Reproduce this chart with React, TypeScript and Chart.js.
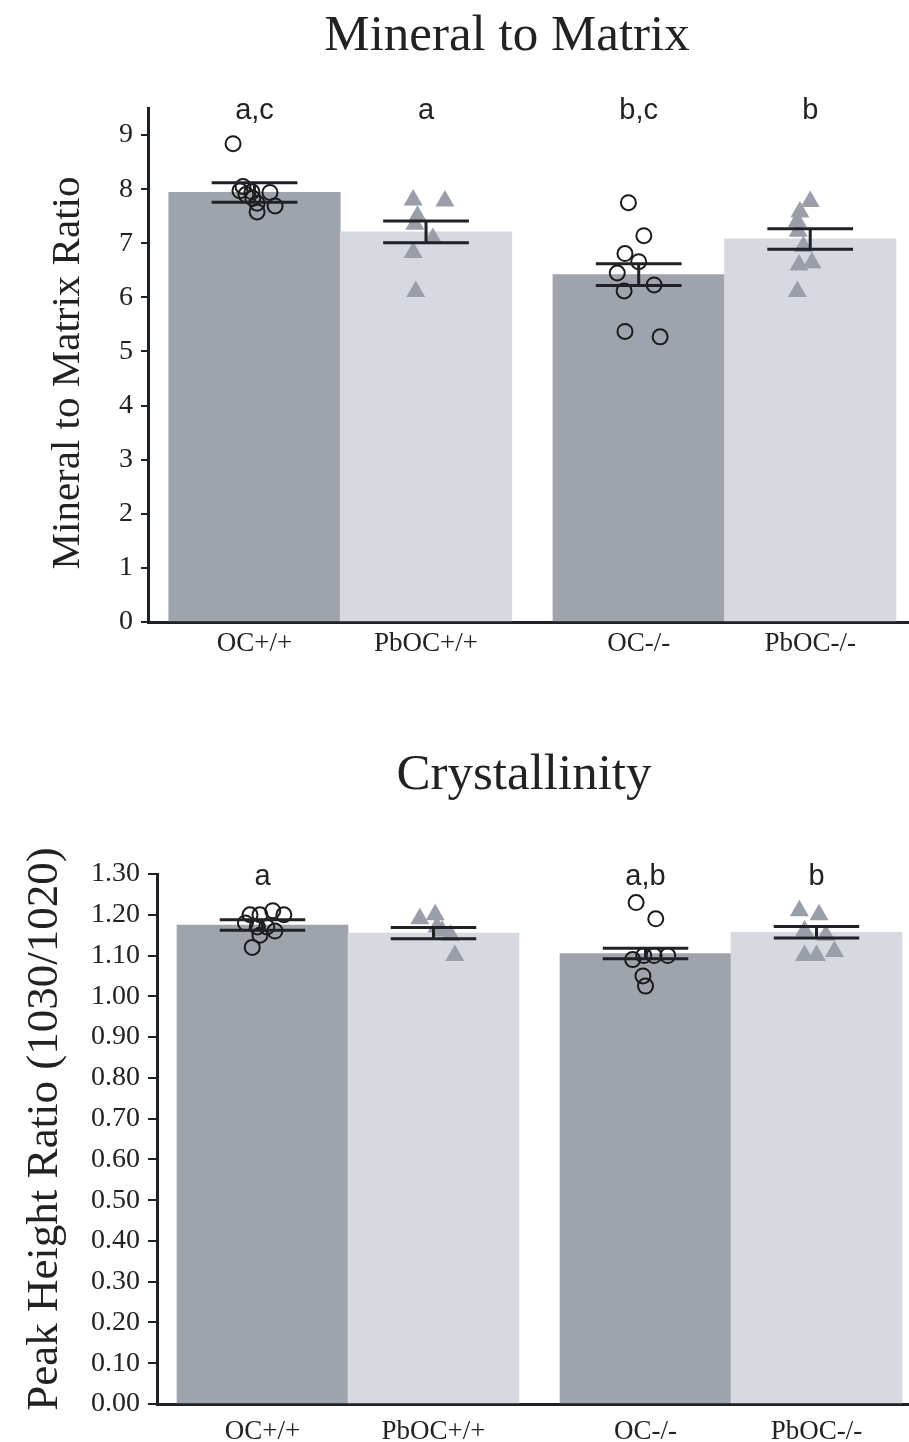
import React, { useEffect, useRef } from "react";
import { Chart, registerables } from "chart.js";

Chart.register(...registerables);

// ---------- data ----------
const GROUPS = ["OC+/+", "PbOC+/+", "OC-/-", "PbOC-/-"];

// Mineral to Matrix
const MM_MEANS = [7.94, 7.21, 6.42, 7.08];
const MM_SEM = [0.18, 0.2, 0.2, 0.19];
const MM_LETTERS = ["a,c", "a", "b,c", "b"];
const MM_OC_WT = [8.84, 8.05, 7.97, 7.95, 7.94, 7.83, 7.74, 7.69, 7.58, 7.9];
const MM_OC_WT_JIT = [-0.125, -0.067, -0.085, -0.015, 0.09, -0.01, 0.015, 0.12, 0.015, -0.05];
const MM_PBOC_WT = [7.8, 7.78, 7.5, 7.35, 7.09, 6.83, 6.11];
const MM_PBOC_WT_JIT = [-0.075, 0.11, -0.05, -0.065, 0.04, -0.075, -0.06];
const MM_OC_KO = [7.75, 7.14, 6.81, 6.66, 6.45, 6.23, 6.12, 5.37, 5.27];
const MM_OC_KO_JIT = [-0.06, 0.03, -0.08, 0.0, -0.125, 0.09, -0.085, -0.08, 0.125];
const MM_PBOC_KO = [7.77, 7.58, 7.4, 7.22, 6.94, 6.64, 6.6, 6.11];
const MM_PBOC_KO_JIT = [0.0, -0.06, -0.075, -0.07, -0.04, 0.01, -0.065, -0.075];

// Crystallinity
const CR_MEANS = [1.175, 1.155, 1.105, 1.157];
const CR_SEM = [0.013, 0.014, 0.013, 0.014];
const CR_LETTERS = ["a", "", "a,b", "b"];
const CR_OC_WT = [1.2, 1.2, 1.21, 1.2, 1.18, 1.17, 1.17, 1.16, 1.15, 1.12];
const CR_OC_WT_JIT = [-0.073, -0.015, 0.06, 0.125, -0.1, -0.03, 0.025, 0.073, -0.015, -0.06];
const CR_PBOC_WT = [1.2, 1.19, 1.17, 1.16, 1.15, 1.1];
const CR_PBOC_WT_JIT = [0.01, -0.08, 0.02, 0.05, 0.1, 0.125];
const CR_OC_KO = [1.23, 1.19, 1.09, 1.1, 1.1, 1.1, 1.05, 1.025];
const CR_OC_KO_JIT = [-0.055, 0.06, -0.075, -0.01, 0.05, 0.13, -0.015, 0.0];
const CR_PBOC_KO = [1.21, 1.2, 1.16, 1.15, 1.11, 1.1, 1.1];
const CR_PBOC_KO_JIT = [-0.1, 0.015, -0.07, 0.055, 0.105, -0.07, 0.0];

// ---------- styles ----------
const SERIF = "'Liberation Serif', 'Times New Roman', serif";
const SANS = "'Liberation Sans', Arial, sans-serif";
const AXIS = "#1e2126";
const TEXT = "#222222";
const DARK_BAR = "#9fa3ac";
const LIGHT_BAR = "#d6d9df";
const TRI = "#9a9ea8";
const GROUP_GAP = 0.24;
const CAP_HALF = 0.25;

type Spec = {
  title: string;
  titleX: number;
  titleBaseline: number;
  titleSize: number;
  yTitle: string;
  yTitleX: number;
  yTitleY: number;
  yTitleSize: number;
  means: number[];
  sems: number[];
  letters: string[];
  points: number[][];
  jitter: number[][];
  yMax: number;
  yStep: number;
  decimals: number;
  height: number;
  areaTop: number;
  areaBottom: number;
  areaLeft: number;
  xMin: number;
  xMax: number;
  tickLength: number;
  xLabelPad: number;
};

const SPECS: Spec[] = [
  {
    title: "Mineral to Matrix",
    titleX: 507,
    titleBaseline: 50,
    titleSize: 51,
    yTitle: "Mineral to Matrix Ratio",
    yTitleX: 79,
    yTitleY: 373,
    yTitleSize: 41,
    means: MM_MEANS,
    sems: MM_SEM,
    letters: MM_LETTERS,
    points: [MM_OC_WT, MM_PBOC_WT, MM_OC_KO, MM_PBOC_KO],
    jitter: [MM_OC_WT_JIT, MM_PBOC_WT_JIT, MM_OC_KO_JIT, MM_PBOC_KO_JIT],
    yMax: 9.5,
    yStep: 1,
    decimals: 0,
    height: 720,
    areaTop: 108,
    areaBottom: 622,
    areaLeft: 148,
    xMin: 0.379,
    xMax: 4.816,
    tickLength: 7,
    xLabelPad: 6,
  },
  {
    title: "Crystallinity",
    titleX: 524,
    titleBaseline: 69,
    titleSize: 51,
    yTitle: "Peak Height Ratio (1030/1020)",
    yTitleX: 57,
    yTitleY: 409,
    yTitleSize: 45,
    means: CR_MEANS,
    sems: CR_SEM,
    letters: CR_LETTERS,
    points: [CR_OC_WT, CR_PBOC_WT, CR_OC_KO, CR_PBOC_KO],
    jitter: [CR_OC_WT_JIT, CR_PBOC_WT_JIT, CR_OC_KO_JIT, CR_PBOC_KO_JIT],
    yMax: 1.3,
    yStep: 0.1,
    decimals: 2,
    height: 722,
    areaTop: 154,
    areaBottom: 684,
    areaLeft: 157,
    xMin: 0.383,
    xMax: 4.781,
    tickLength: 9,
    xLabelPad: 12,
  },
];

function buildChart(canvas: HTMLCanvasElement, spec: Spec) {
  const positions = GROUPS.map((_, i) => i + 1 + (i >= 2 ? GROUP_GAP : 0));

  const annotate = {
    id: "annotate",
    afterDatasetsDraw(chart: any) {
      const { ctx, chartArea } = chart;
      const x = chart.scales.x;
      const y = chart.scales.y;
      ctx.save();
      // error bars
      ctx.strokeStyle = AXIS;
      ctx.lineWidth = 3;
      ctx.lineCap = "butt";
      positions.forEach((p, i) => {
        const cx = x.getPixelForValue(p);
        const half = x.getPixelForValue(p + CAP_HALF) - cx;
        const yt = y.getPixelForValue(spec.means[i] + spec.sems[i]);
        const yb = y.getPixelForValue(spec.means[i] - spec.sems[i]);
        ctx.beginPath();
        ctx.moveTo(cx - half, yt);
        ctx.lineTo(cx + half, yt);
        ctx.moveTo(cx - half, yb);
        ctx.lineTo(cx + half, yb);
        ctx.moveTo(cx, yt);
        ctx.lineTo(cx, yb);
        ctx.stroke();
      });
      // significance letters
      ctx.fillStyle = TEXT;
      ctx.font = `29px ${SANS}`;
      ctx.textAlign = "center";
      ctx.textBaseline = "alphabetic";
      spec.letters.forEach((l, i) => {
        if (l) ctx.fillText(l, x.getPixelForValue(positions[i]), chartArea.top + 11);
      });
      // title
      ctx.font = `${spec.titleSize}px ${SERIF}`;
      ctx.fillText(spec.title, spec.titleX, spec.titleBaseline);
      // y-axis title
      ctx.translate(spec.yTitleX, spec.yTitleY);
      ctx.rotate(-Math.PI / 2);
      ctx.font = `${spec.yTitleSize}px ${SERIF}`;
      ctx.fillText(spec.yTitle, 0, 0);
      ctx.restore();
    },
  };

  const datasets: any[] = [
    {
      type: "bar",
      data: positions.map((p, i) => ({ x: p, y: spec.means[i] })),
      backgroundColor: [DARK_BAR, LIGHT_BAR, DARK_BAR, LIGHT_BAR],
      borderWidth: 0,
      barPercentage: 1,
      categoryPercentage: 1,
      order: 3,
    },
    ...spec.points.map((vals, g) => {
      const circle = g % 2 === 0;
      return {
        type: "scatter",
        data: vals.map((v, k) => ({ x: positions[g] + spec.jitter[g][k], y: v })),
        pointStyle: circle ? "circle" : "triangle",
        pointRadius: circle ? 7.5 : 11,
        pointBackgroundColor: circle ? "rgba(0,0,0,0)" : TRI,
        pointBorderColor: circle ? "#1a1a1a" : TRI,
        pointBorderWidth: circle ? 2 : 0,
        order: 1,
      };
    }),
  ];

  return new Chart(canvas, {
    type: "bar",
    data: { datasets },
    options: {
      responsive: false,
      animation: false,
      devicePixelRatio: 1,
      layout: { autoPadding: false, padding: { top: spec.areaTop, left: 0, right: 0, bottom: 0 } },
      plugins: {
        legend: { display: false },
        tooltip: { enabled: false },
        title: { display: false },
      },
      scales: {
        x: {
          type: "linear",
          min: spec.xMin,
          max: spec.xMax,
          bounds: "data",
          offset: false,
          grid: { display: false, drawTicks: false, tickLength: 0 },
          border: { display: true, color: AXIS, width: 3 },
          afterBuildTicks: (s: any) => {
            s.ticks = positions.map((v) => ({ value: v }));
          },
          afterFit: (s: any) => {
            s.height = spec.height - spec.areaBottom;
            s.paddingLeft = 0;
            s.paddingRight = 0;
          },
          ticks: {
            autoSkip: false,
            maxRotation: 0,
            minRotation: 0,
            padding: spec.xLabelPad,
            color: TEXT,
            font: { family: SERIF, size: 27 },
            callback: (_v: any, i: number) => GROUPS[i],
          },
        },
        y: {
          type: "linear",
          min: 0,
          max: spec.yMax,
          bounds: "data",
          grid: {
            display: true,
            drawOnChartArea: false,
            drawTicks: true,
            tickLength: spec.tickLength,
            color: AXIS,
            lineWidth: 2,
          },
          border: { display: true, color: AXIS, width: 3 },
          afterFit: (s: any) => {
            s.width = spec.areaLeft;
            s.paddingTop = 0;
            s.paddingBottom = 0;
          },
          ticks: {
            stepSize: spec.yStep,
            includeBounds: false,
            padding: 8,
            color: TEXT,
            font: { family: SERIF, size: 28 },
            callback: (v: any) => Number(v).toFixed(spec.decimals),
          },
        },
      },
    } as any,
    plugins: [annotate],
  } as any);
}

function Panel({ spec, top }: { spec: Spec; top: number }) {
  const ref = useRef<HTMLCanvasElement | null>(null);
  useEffect(() => {
    if (!ref.current) return;
    const chart = buildChart(ref.current, spec);
    return () => chart.destroy();
  }, [spec]);
  return (
    <canvas
      ref={ref}
      width={909}
      height={spec.height}
      style={{ position: "absolute", left: 0, top, width: 909, height: spec.height, display: "block" }}
    />
  );
}

export default function App() {
  return (
    <div
      style={{
        position: "absolute",
        left: 0,
        top: 0,
        width: 909,
        height: 1442,
        background: "#ffffff",
        overflow: "hidden",
      }}
    >
      <Panel spec={SPECS[0]} top={0} />
      <Panel spec={SPECS[1]} top={720} />
    </div>
  );
}
